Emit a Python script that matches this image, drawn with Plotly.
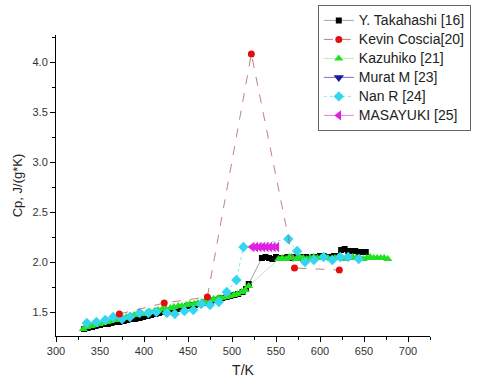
import plotly.graph_objects as go

# Y. Takahashi [16]
tak_T = [332,336,341,345,350,354,359,363,368,372,377,381,386,390,395,399,404,408,413,417,422,426,431,435,440,444,449,453,458,462,467,471,476,480,485,489,494,498,503,507,512,516,519,
         534,538,542,546,550,555,559,563,567,571,575,580,584,588,592,596,600,604,608,612,616,620,624,628,632,636,640,644,648,652]
tak_Cp = [1.33,1.34,1.35,1.36,1.37,1.38,1.38,1.39,1.40,1.40,1.41,1.42,1.43,1.43,1.44,1.45,1.46,1.47,1.48,1.49,1.50,1.51,1.51,1.52,1.53,1.54,1.56,1.57,1.57,1.58,1.59,1.60,1.61,1.62,1.63,1.64,1.65,1.66,1.67,1.68,1.70,1.73,1.78,
          2.04,2.05,2.04,2.03,2.05,2.04,2.04,2.05,2.04,2.05,2.04,2.05,2.05,2.04,2.05,2.05,2.06,2.06,2.05,2.05,2.06,2.06,2.12,2.13,2.11,2.11,2.11,2.10,2.10,2.10]

# Kevin Coscia [20]
kev_T = [372,423,472,522,571,622]
kev_Cp = [1.48,1.59,1.65,4.08,1.94,1.92]

# Kazuhiko [21]
kaz_T = [331,335,340,344,349,353,358,362,367,371,376,380,385,389,394,398,403,407,412,416,421,425,430,434,439,443,448,452,457,461,466,470,475,479,484,488,493,497,502,506,511,515,519,
         553,557,561,565,569,573,577,581,585,589,593,597,601,605,609,613,617,621,625,629,633,637,641,645,649,653,657,661,665,669,673,677]
kaz_Cp = [1.33,1.35,1.36,1.37,1.38,1.39,1.40,1.41,1.42,1.43,1.44,1.45,1.46,1.47,1.48,1.48,1.49,1.50,1.51,1.52,1.53,1.53,1.54,1.55,1.56,1.56,1.57,1.58,1.58,1.59,1.60,1.61,1.62,1.63,1.64,1.64,1.65,1.66,1.67,1.68,1.70,1.72,1.76,
          2.03,2.04,2.03,2.05,2.04,2.03,2.05,2.04,2.03,2.04,2.05,2.04,2.04,2.05,2.04,2.03,2.04,2.05,2.04,2.03,2.04,2.05,2.04,2.04,2.03,2.04,2.05,2.04,2.04,2.04,2.04,2.03]

# Murat M [23] (hidden under other series in the reference)
mur_T = [None]
mur_Cp = [None]

# Nan R [24]
nan_T = [335,346,356,365,375,384,395,405,414,426,435,446,456,465,475,485,494,505,513,564,574,583,593,604,614,623,632,644]
nan_Cp = [1.39,1.40,1.42,1.45,1.43,1.45,1.49,1.49,1.50,1.49,1.48,1.51,1.52,1.58,1.57,1.60,1.70,1.82,2.15,2.23,2.11,2.00,2.02,2.05,2.02,2.05,2.05,2.03]

# MASAYUKI [25]
mas_T = [523,527,531,535,539,543,547,551]
mas_Cp = [2.15,2.15,2.15,2.15,2.15,2.15,2.15,2.15]

x_ticks = [300,350,400,450,500,550,600,650,700]
y_ticks = [1.5,2.0,2.5,3.0,3.5,4.0]


def lg(name):
    return '<span style="font-size:14px">' + name + '</span>'


fig = go.Figure()
fig.add_trace(go.Scatter(x=mur_T, y=mur_Cp, name=lg("Murat M [23]"), mode="lines+markers",
                         line=dict(color="#5050d0", width=0.8),
                         marker=dict(symbol="triangle-down", size=9, color="#1a1aa0"), legendrank=4))
fig.add_trace(go.Scatter(x=tak_T, y=tak_Cp, name=lg("Y. Takahashi [16]"), mode="lines+markers",
                         line=dict(color="#666666", width=0.6),
                         marker=dict(symbol="square", size=6, color="black"), legendrank=1))
fig.add_trace(go.Scatter(x=kaz_T, y=kaz_Cp, name=lg("Kazuhiko [21]"), mode="lines+markers",
                         line=dict(color="#8fdc8f", width=0.6),
                         marker=dict(symbol="triangle-up", size=8, color="#22e022"), legendrank=3))
fig.add_trace(go.Scatter(x=nan_T, y=nan_Cp, name=lg("Nan R [24]"), mode="lines+markers",
                         line=dict(color="#50d8e8", width=0.7, dash="dot"),
                         marker=dict(symbol="diamond", size=8, color="#33d6ee"), legendrank=5))
fig.add_trace(go.Scatter(x=mas_T, y=mas_Cp, name=lg("MASAYUKI [25]"), mode="lines+markers",
                         line=dict(color="#e060e0", width=0.8),
                         marker=dict(symbol="triangle-left", size=9, color="#e020e0"), legendrank=6))
fig.add_trace(go.Scatter(x=kev_T, y=kev_Cp, name=lg("Kevin Coscia[20]"), mode="lines+markers",
                         line=dict(color="#b06060", width=0.8, dash="dash"),
                         marker=dict(symbol="circle", size=7, color="#e01010"), legendrank=2))

fig.update_layout(
    width=480, height=382,
    margin=dict(l=56, r=50, t=35, b=46, autoexpand=False),
    paper_bgcolor="white", plot_bgcolor="white",
    font=dict(family="Liberation Sans, Arial, sans-serif", color="#333333", size=11),
    showlegend=True,
    legend=dict(x=0.70, y=1.10, xanchor="left", yanchor="top",
                bordercolor="#666666", borderwidth=1, bgcolor="white",
                font=dict(size=11, color="#222222"), tracegroupgap=0),
    xaxis=dict(range=[300, 725], tickvals=x_ticks, showgrid=False, zeroline=False,
               showline=True, linecolor="black", linewidth=1, automargin=False,
               ticks="outside", ticklen=5, tickcolor="black",
               minor=dict(ticks="outside", ticklen=3, dtick=25, tick0=300, tickcolor="black"),
               title=dict(text="T/K", font=dict(size=14, color="#222222"), standoff=8)),
    yaxis=dict(range=[1.26, 4.27], tickvals=y_ticks, tickformat=".1f", showgrid=False, zeroline=False,
               showline=True, linecolor="black", linewidth=1, automargin=False,
               ticks="outside", ticklen=5, tickcolor="black",
               minor=dict(ticks="outside", ticklen=3, dtick=0.25, tick0=1.5, tickcolor="black"),
               title=dict(text="Cp, J/(g*K)", font=dict(size=13, color="#222222"), standoff=6)),
)

fig.write_html("out.html")
